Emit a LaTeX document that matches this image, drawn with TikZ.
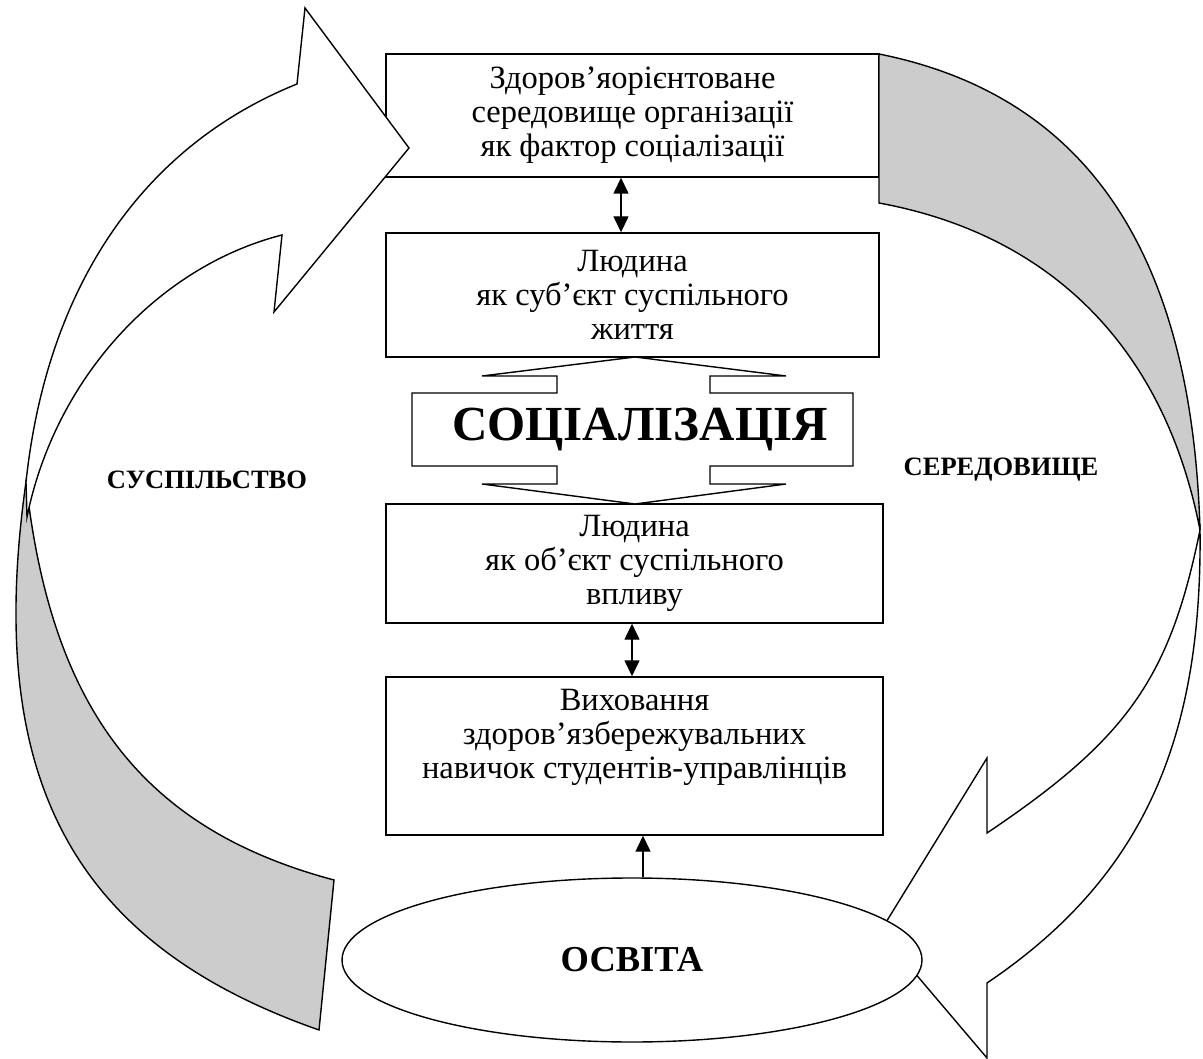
\documentclass[tikz,border=0pt]{standalone}
\usepackage{fontspec}
\setmainfont{Liberation Serif}
\usetikzlibrary{arrows.meta,shapes.geometric}

\begin{document}
\begin{tikzpicture}
    [x=1pt,y=-1pt,line width=1.4pt,
     boxtext/.style={align=center,inner sep=0pt,font=\fontsize{32.5}{34}\selectfont},
     box/.style={boxtext,draw,fill=white},
     tail/.style={draw,fill=black!20},
     front/.style={draw,fill=white},
     conn/.style={-{Triangle[length=16pt,width=15pt]}},
     both/.style={{Triangle[length=16pt,width=15pt]}-{Triangle[length=16pt,width=15pt]}},
     caps/.style={font=\bfseries\fontsize{26.5}{30}\selectfont}]
    \useasboundingbox (0,0) rectangle (1203,1059);

    \node[box,minimum width=493,minimum height=123] (b1) at (632.5,115.5)
        {Здоров’яорієнтоване\\середовище організації\\як фактор соціалізації};
    \node[box,minimum width=493,minimum height=124] (b2) at (632.5,295)
        {Людина\\як суб’єкт суспільного\\життя};
    \node[box,minimum width=497,minimum height=119] (b3) at (634.5,563.5)
        {Людина\\як об’єкт суспільного\\впливу};
    \node[box,minimum width=497,minimum height=158] (b4) at (634.5,756) {};
    \node[boxtext] (b4t) at (634.5,737)
        {Виховання\\здоров’язбережувальних\\навичок студентів-управлінців};

    % socialisation arrow
    \draw[fill=white] (635,357) -- (786,376) -- (710,376) -- (710,393) -- (853,393)
        -- (853,466) -- (710,466) -- (710,484) -- (786,484) -- (635,504)
        -- (482,484) -- (557,484) -- (557,466) -- (412,466) -- (412,393)
        -- (557,393) -- (557,376) -- (482,376) -- cycle;
    \node[font=\bfseries\fontsize{49}{55}\selectfont] (soc) at (640,430) {СОЦІАЛІЗАЦІЯ};

    % left curved arrow
    \draw[tail] (26,482) .. controls (-16,778.5) and (72.4,943.7) .. (319,1030)
        -- (334,880) .. controls (143.6,829.3) and (51.2,709.7) .. cycle;
    \draw[front] (26,482) .. controls (46.9,287) and (142,146.5) .. (297,84)
        -- (305,8) -- (409,148) -- (274,312) -- (282,235)
        .. controls (157,267) and (55,379.4) .. (27,517) -- cycle;

    % right curved arrow
    \draw[tail] (879,54) -- (879,203) .. controls (1052.6,234.9) and (1164.9,349.3) .. (1200,530)
        .. controls (1192,252) and (1086,95.5) .. cycle;
    \draw[front] (1200,530) .. controls (1202.5,743.5) and (1140.3,879.5) .. (987,983)
        -- (987,1058) -- (880,932) -- (987,758) -- (987,833)
        .. controls (1127,738.8) and (1169.8,678.8) .. cycle;

    \node[draw,fill=white,ellipse,minimum width=580,minimum height=164,inner sep=0pt,
          font=\bfseries\fontsize{36.5}{40}\selectfont] (osvita) at (632,960) {ОСВІТА};

    \draw[both] ([xshift=-11.5pt]b1.south) -- ([xshift=-11.5pt]b2.north);
    \draw[both] ([xshift=-2.5pt]b3.south) -- ([xshift=-2.5pt]b4.north);
    \draw[conn] ([xshift=11pt]osvita.north) -- ([xshift=8.5pt]b4.south);

    \node[caps] (susp) at (207,480) {СУСПІЛЬСТВО};
    \node[caps] (sered) at (1001,470) {СЕРЕДОВИЩЕ};
\end{tikzpicture}
\end{document}
